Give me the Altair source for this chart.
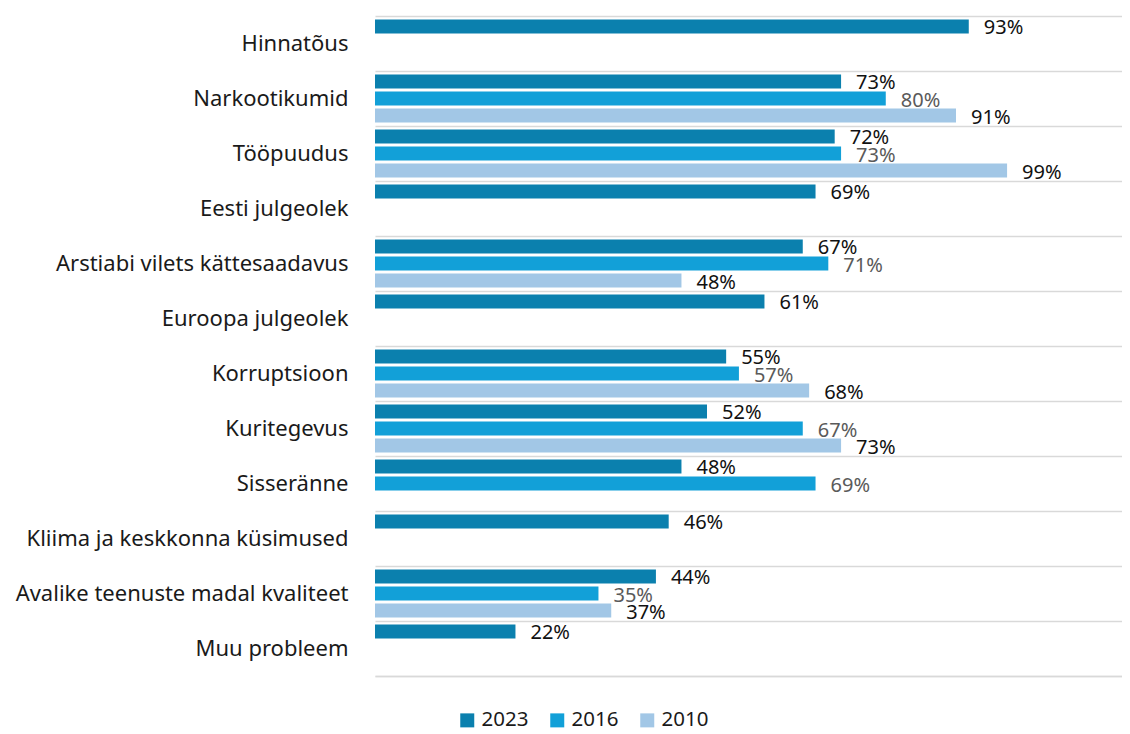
import altair as alt
import pandas as pd

categories = [
    "Hinnatõus", "Narkootikumid", "Tööpuudus", "Eesti julgeolek",
    "Arstiabi vilets kättesaadavus", "Euroopa julgeolek", "Korruptsioon",
    "Kuritegevus", "Sisseränne", "Kliima ja keskkonna küsimused",
    "Avalike teenuste madal kvaliteet", "Muu probleem",
]
years = ["2023", "2016", "2010"]
v2023 = [93, 73, 72, 69, 67, 61, 55, 52, 48, 46, 44, 22]
v2016 = [None, 80, 73, None, 71, None, 57, 67, 69, None, 35, None]
v2010 = [None, 91, 99, None, 48, None, 68, 73, None, None, 37, None]
colors = ["#0b80ae", "#12a0d8", "#a2c7e6"]
label_colors = ["#111111", "#5a5a5a", "#111111"]

rows = []
for yr, vals, lc in zip(years, [v2023, v2016, v2010], label_colors):
    for c, v in zip(categories, vals):
        if v is not None:
            rows.append({"cat": c, "year": yr, "value": v, "lc": lc})
df = pd.DataFrame(rows)

y_enc = alt.Y("cat:N", sort=categories, title=None,
              scale=alt.Scale(paddingInner=0, paddingOuter=0),
              axis=alt.Axis(domain=False, ticks=False, grid=True, tickBand="extent",
                            gridColor="#d9d9d9", gridWidth=1.5,
                            labelFontSize=22, labelColor="#1a1a1a",
                            labelFont="Noto Sans", labelPadding=27, labelLimit=400))
yoff = alt.YOffset("year:N", sort=years,
                   scale=alt.Scale(domain=years, paddingInner=0.18, paddingOuter=0.2))
x_enc = alt.X("value:Q", title=None, scale=alt.Scale(domain=[0, 117], nice=False),
              axis=alt.Axis(labels=False, ticks=False, grid=False,
                            domainColor="#d9d9d9", domainWidth=1.5))

base = alt.Chart(df)
bars = base.mark_bar(cornerRadius=0).encode(
    y=y_enc, yOffset=yoff, x=x_enc,
    color=alt.Color("year:N", sort=years,
                    scale=alt.Scale(domain=years, range=colors),
                    legend=alt.Legend(title=None, orient="none", direction="horizontal",
                                      legendX=82, legendY=694,
                                      symbolType="square", symbolSize=196,
                                      symbolStrokeWidth=0,
                                      labelFontSize=20.5, labelFont="Noto Sans",
                                      labelColor="#1a1a1a", columnPadding=18,
                                      symbolOffset=0)),
)
labels = base.transform_calculate(lbl="datum.value + '%'").mark_text(
    align="left", baseline="middle", dx=15, dy=2, fontSize=20, font="Noto Sans"
).encode(
    y=alt.Y("cat:N", sort=categories), yOffset=alt.YOffset("year:N", sort=years),
    x="value:Q", text="lbl:N", color=alt.Color("lc:N", scale=None),
)

chart = (bars + labels).properties(
    width=747, height=660,
    autosize=alt.AutoSizeParams(type="none"),
    padding={"left": 367, "top": 8, "right": 0, "bottom": 56},
).configure_view(stroke=None)

chart.save("out.html", embed_options={"renderer": "svg", "actions": False})
